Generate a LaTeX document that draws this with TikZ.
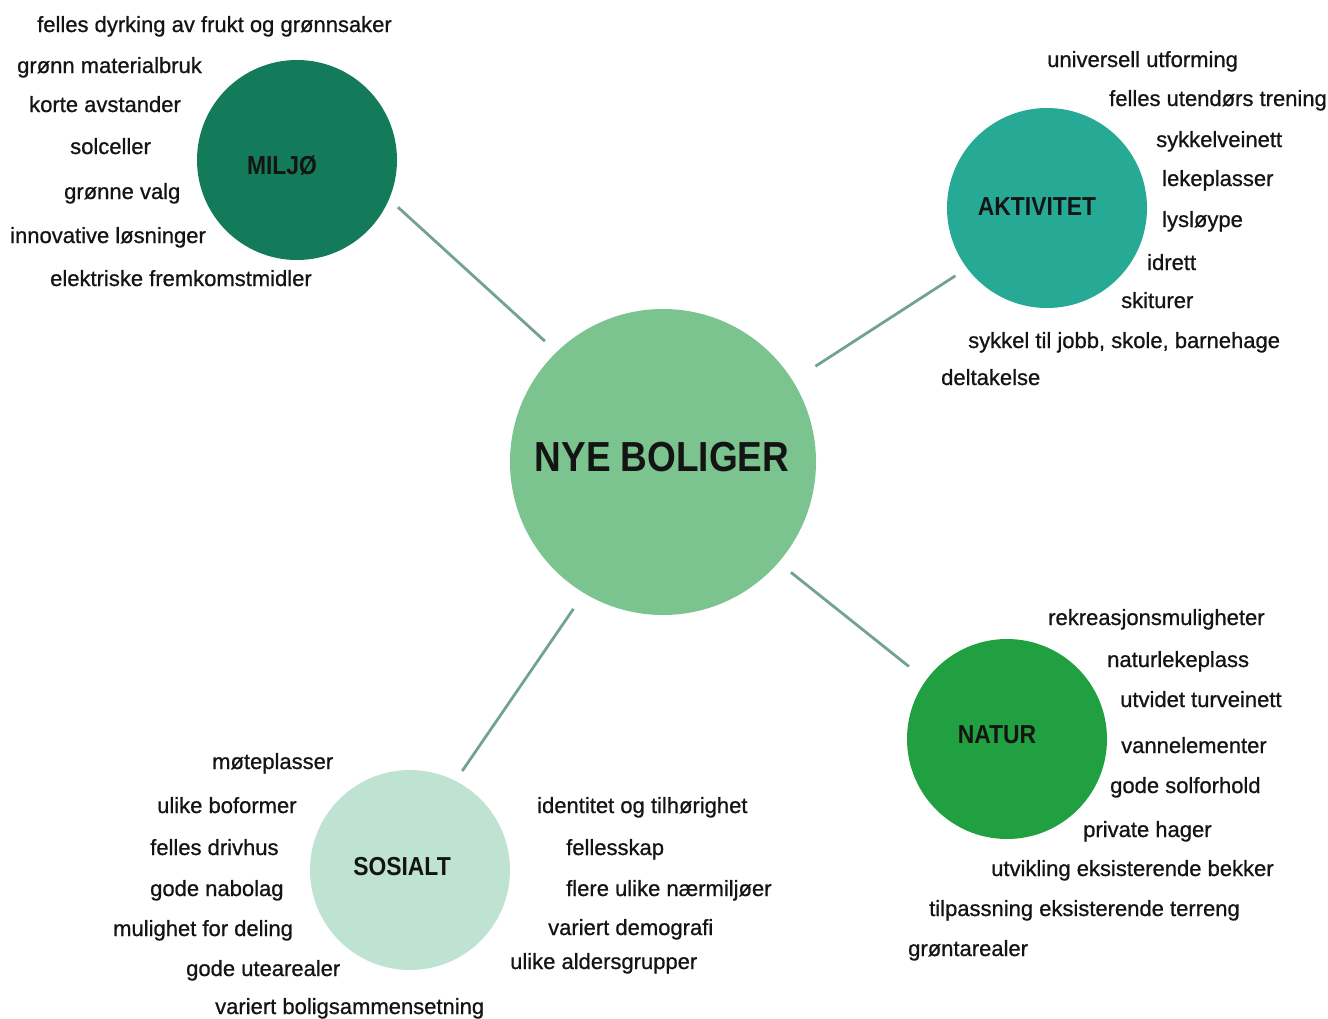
\documentclass[tikz,border=0pt]{standalone}
\usepackage{fontspec}
\setmainfont{Liberation Sans}[RawFeature={embolden=0.8}]
\newfontfamily\headfont[FakeStretch=0.88]{Liberation Sans}
\definecolor{ink}{HTML}{141414}
\definecolor{link}{HTML}{72A392}
\definecolor{miljo}{HTML}{137A5A}
\definecolor{aktiv}{HTML}{26AA96}
\definecolor{core}{HTML}{7CC48F}
\definecolor{natur}{HTML}{20A040}
\definecolor{sosial}{HTML}{BEE3D2}

\begin{document}
\begin{tikzpicture}[
  x=1pt, y=-1pt,
  text=ink,
  hub/.style={circle, minimum size=200pt, inner sep=0pt, outer sep=0pt},
  title/.style={font=\headfont\bfseries\fontsize{26}{30}\selectfont, inner sep=0pt},
  item/.style={font=\fontsize{22}{26}\selectfont, anchor=west, inner sep=0pt,
    text height=16pt, text depth=0pt},
  link/.style={draw=link, line width=2.8pt}
]
  \useasboundingbox (0,0) rectangle (1328,1018);
  % hubs
  \node[hub, fill=miljo] (miljo) at (297,160) {};
  \node[title] (miljot) at (282,166) {MILJØ};
  \node[hub, fill=aktiv] (aktiv) at (1047,208) {};
  \node[title] (aktivt) at (1037,207) {AKTIVITET};
  \node[hub, fill=core, minimum size=306pt] (core) at (663,462) {};
  \node[title, font=\headfont\bfseries\fontsize{42}{46}\selectfont] (coret) at (662,457) {NYE BOLIGER};
  \node[hub, fill=natur] (natur) at (1007,739) {};
  \node[title] (naturt) at (997,735) {NATUR};
  \node[hub, fill=sosial] (sosial) at (410,870) {};
  \node[title] (sosialt) at (402,867) {SOSIALT};
  % links
  \draw[link, shorten <=12pt, shorten >=16pt] (miljo.-23) -- (core.134);
  \draw[link, shorten <=14pt, shorten >=27pt] (aktiv.-143) -- (core.32);
  \draw[link, shorten <=16pt, shorten >=22pt] (core.-41) -- (natur.144);
  \draw[link, shorten <=19pt, shorten >=12pt] (core.-121) -- (sosial.63);
  % miljo items
  \node[item] (m1) at (37,24) {felles dyrking av frukt og grønnsaker};
  \node[item] (m2) at (17,65) {grønn materialbruk};
  \node[item] (m3) at (29,104) {korte avstander};
  \node[item] (m4) at (70,146) {solceller};
  \node[item] (m5) at (64,191) {grønne valg};
  \node[item] (m6) at (10,235) {innovative løsninger};
  \node[item] (m7) at (50,278) {elektriske fremkomstmidler};
  % aktivitet items
  \node[item] (a1) at (1047,59) {universell utforming};
  \node[item] (a2) at (1109,98) {felles utendørs trening};
  \node[item] (a3) at (1156,139) {sykkelveinett};
  \node[item] (a4) at (1162,178) {lekeplasser};
  \node[item] (a5) at (1162,219) {lysløype};
  \node[item] (a6) at (1147,262) {idrett};
  \node[item] (a7) at (1121,300) {skiturer};
  \node[item] (a8) at (968,340) {sykkel til jobb, skole, barnehage};
  \node[item] (a9) at (941,377) {deltakelse};
  % natur items
  \node[item] (n1) at (1048,617) {rekreasjonsmuligheter};
  \node[item] (n2) at (1107,659) {naturlekeplass};
  \node[item] (n3) at (1120,699) {utvidet turveinett};
  \node[item] (n4) at (1121,745) {vannelementer};
  \node[item] (n5) at (1110,785) {gode solforhold};
  \node[item] (n6) at (1083,829) {private hager};
  \node[item] (n7) at (991,868) {utvikling eksisterende bekker};
  \node[item] (n8) at (929,908) {tilpassning eksisterende terreng};
  \node[item] (n9) at (908,948) {grøntarealer};
  % sosialt items
  \node[item] (s1) at (212,761) {møteplasser};
  \node[item] (s2) at (157,805) {ulike boformer};
  \node[item] (s3) at (150,847) {felles drivhus};
  \node[item] (s4) at (150,888) {gode nabolag};
  \node[item] (s5) at (113,928) {mulighet for deling};
  \node[item] (s6) at (186,968) {gode utearealer};
  \node[item] (s7) at (215,1006) {variert boligsammensetning};
  \node[item] (s8) at (537,805) {identitet og tilhørighet};
  \node[item] (s9) at (566,847) {fellesskap};
  \node[item] (s10) at (566,888) {flere ulike nærmiljøer};
  \node[item] (s11) at (548,927) {variert demografi};
  \node[item] (s12) at (510,961) {ulike aldersgrupper};
\end{tikzpicture}
\end{document}
